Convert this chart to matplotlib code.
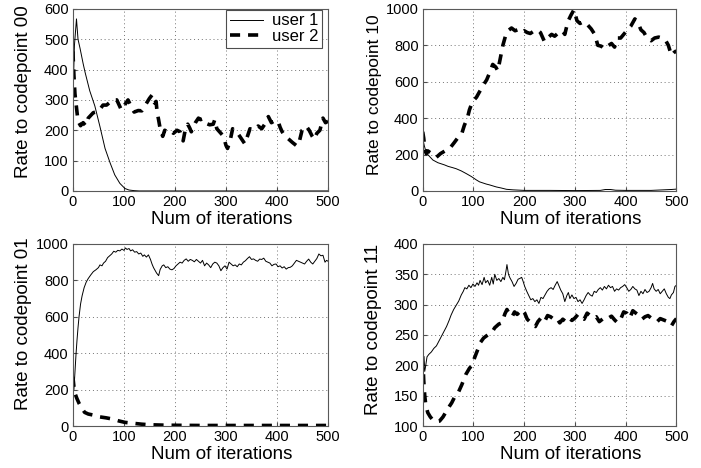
import matplotlib
matplotlib.use("Agg")
import matplotlib.pyplot as plt

plt.rcParams['font.family'] = ['Liberation Sans', 'DejaVu Sans']

# ---- codepoint 00 (top left) ----
tl_u1_x = [0, 3, 7, 10, 14, 20, 24, 33, 43, 53, 63, 73, 82, 92, 102, 110, 120, 130, 500]
tl_u1_y = [300, 480, 567, 500, 470, 420, 390, 330, 280, 212, 140, 92, 53, 25, 8, 3, 1, 0, 0]
tl_u2_x = [0, 2, 4, 6, 10, 15, 20, 25, 30, 40, 50, 59, 66, 78, 86, 95, 102, 108, 115, 120, 128,
           135, 142, 150, 155, 160, 163, 165, 168, 171, 176, 180, 185, 190, 197, 204, 210, 216,
           220, 225, 229, 232, 240, 246, 250, 255, 262, 268, 275, 278, 282, 290, 295, 300, 303,
           308, 313, 318, 325, 333, 337, 343, 347, 353, 363, 370, 376, 383, 389, 396, 402, 406,
           410, 416, 422, 430, 439, 444, 449, 457, 463, 469, 473, 478, 484, 490, 495, 500]
tl_u2_y = [460, 380, 320, 290, 230, 215, 225, 215, 240, 258, 262, 283, 283, 300, 300, 267, 285,
           300, 275, 260, 265, 264, 283, 305, 316, 290, 295, 260, 234, 205, 180, 200, 195, 200,
           190, 200, 195, 165, 200, 220, 207, 195, 225, 240, 235, 238, 222, 218, 220, 235, 205,
           190, 180, 150, 140, 165, 205, 195, 185, 165, 155, 185, 205, 200, 214, 205, 220, 245,
           225, 232, 230, 210, 195, 180, 172, 160, 148, 165, 200, 214, 200, 180, 170, 190, 200,
           240, 225, 230]

# ---- codepoint 10 (top right) ----
tr_u1_x = [0, 3, 6, 10, 15, 20, 30, 43, 50, 59, 66, 76, 86, 96, 106, 112, 125, 132, 145, 155,
           165, 178, 200, 250, 300, 350, 360, 370, 380, 400, 450, 490, 500]
tr_u1_y = [290, 250, 220, 200, 185, 170, 155, 143, 135, 128, 122, 110, 95, 79, 60, 50, 38, 33,
           22, 16, 9, 6, 3, 3, 2, 3, 8, 8, 4, 3, 3, 8, 10]
tr_u2_x = [0, 2, 4, 7, 10, 20, 27, 35, 47, 55, 62, 70, 77, 82, 88, 92, 98, 106, 112, 118, 126,
           132, 138, 144, 148, 153, 158, 163, 168, 175, 182, 187, 193, 200, 206, 212, 220, 226,
           232, 240, 246, 254, 260, 268, 275, 280, 286, 292, 298, 304, 310, 317, 324, 332, 339,
           345, 352, 358, 364, 372, 378, 384, 390, 396, 402, 410, 418, 424, 430, 436, 442, 450,
           457, 465, 471, 478, 484, 490, 495, 500]
tr_u2_y = [325, 290, 235, 205, 220, 200, 185, 205, 225, 240, 265, 295, 315, 360, 400, 445, 490,
           515, 545, 575, 610, 650, 695, 680, 660, 730, 800, 850, 880, 895, 880, 885, 870, 880,
           870, 865, 880, 885, 870, 820, 840, 860, 850, 870, 880, 860, 930, 965, 995, 935, 920,
           930, 915, 890, 860, 800, 795, 780, 795, 810, 790, 840, 840, 860, 880, 905, 945, 925,
           885, 870, 840, 825, 840, 845, 840, 830, 800, 745, 760, 770]

# ---- codepoint 01 (bottom left) ----
bl_u1_x = [0, 2, 4, 6, 8, 10, 12, 15, 18, 22, 26, 30, 35, 40, 45, 50, 53, 57, 60, 64, 68, 72,
           76, 80, 84, 88, 92, 96, 100, 103, 106, 110, 113, 117, 121, 125, 129, 133, 137, 140,
           144, 148, 152, 155, 158, 161, 164, 168, 171, 175, 178, 182, 186, 190, 194, 198, 202,
           206, 210, 214, 218, 222, 226, 230, 234, 238, 242, 246, 250, 254, 258, 262, 266, 270,
           274, 278, 282, 286, 290, 294, 298, 302, 306, 310, 314, 318, 322, 326, 330, 334, 338,
           342, 346, 350, 354, 358, 362, 366, 370, 374, 378, 382, 386, 390, 394, 398, 402, 406,
           410, 414, 418, 422, 426, 430, 434, 438, 442, 446, 450, 454, 458, 462, 466, 470, 474,
           478, 482, 486, 490, 494, 497, 500]
bl_u1_y = [270, 200, 300, 390, 470, 540, 600, 670, 715, 760, 790, 810, 830, 848, 858, 870, 885,
           880, 895, 905, 925, 935, 945, 960, 955, 965, 962, 972, 965, 978, 970, 975, 962, 968,
           955, 958, 945, 950, 932, 940, 928, 940, 915, 890, 870, 855, 840, 826, 860, 880, 885,
           870, 875, 862, 858, 865, 880, 890, 900, 895, 910, 918, 905, 915, 910, 902, 915, 905,
           895, 910, 880, 895, 885, 870, 890, 900, 895, 880, 853, 870, 880, 862, 900, 890, 880,
           885, 875, 890, 885, 900, 908, 920, 930, 915, 918, 910, 905, 917, 915, 922, 905, 900,
           895, 880, 888, 890, 875, 880, 868, 875, 862, 870, 872, 880, 895, 910, 905, 900, 895,
           890, 905, 917, 900, 890, 905, 920, 945, 935, 938, 900, 910, 905]
bl_u2_x = [0, 2, 4, 8, 12, 17, 23, 30, 40, 53, 65, 78, 90, 102, 118, 135, 150, 175, 200, 250,
           300, 400, 500]
bl_u2_y = [270, 215, 180, 150, 125, 100, 75, 66, 60, 50, 45, 38, 28, 20, 15, 10, 7, 5, 4, 3, 3,
           3, 3]

# ---- codepoint 11 (bottom right) ----
br_u1_x = [0, 2, 4, 6, 8.5, 12, 17, 22, 27, 32, 37, 42, 47, 52, 56, 61, 66, 71, 76, 80, 83, 87,
           91, 95, 99, 103, 107, 110, 113, 117, 121, 124, 128, 132, 136, 139, 142, 146, 150, 154,
           158, 161, 164, 166, 169, 172, 176, 180, 184, 188, 191, 195, 198, 201, 205, 209, 213,
           217, 221, 225, 229, 233, 237, 241, 245, 249, 253, 257, 261, 265, 268, 272, 276, 280,
           284, 287, 290, 294, 298, 302, 306, 310, 314, 318, 322, 326, 330, 334, 338, 342, 346,
           350, 354, 358, 362, 366, 370, 374, 378, 382, 386, 390, 394, 398, 402, 406, 410, 414,
           418, 422, 426, 430, 434, 438, 442, 446, 450, 453, 456, 460, 464, 468, 472, 476, 480,
           484, 487, 490, 494, 497, 500]
br_u1_y = [225, 205, 190, 200, 214, 218, 222, 228, 232, 240, 248, 256, 264, 274, 283, 292, 299,
           306, 316, 322, 328, 326, 332, 328, 334, 330, 336, 332, 340, 333, 345, 336, 340, 332,
           345, 334, 350, 340, 343, 338, 345, 341, 355, 366, 350, 344, 338, 330, 335, 342, 343,
           345, 338, 330, 322, 315, 308, 310, 305, 308, 302, 312, 310, 316, 322, 326, 328, 325,
           332, 338, 332, 324, 318, 305, 315, 320, 310, 316, 310, 312, 305, 308, 302, 308, 315,
           320, 316, 314, 322, 320, 325, 328, 324, 330, 326, 332, 328, 330, 322, 326, 324, 328,
           330, 333, 328, 322, 325, 330, 326, 324, 315, 322, 318, 325, 320, 322, 328, 335, 326,
           322, 325, 318, 322, 326, 318, 312, 310, 316, 320, 330, 332]
br_u2_x = [0, 2, 4, 6, 10, 15, 20, 27, 33, 40, 47, 53, 57, 63, 70, 77, 85, 92, 97, 102, 108,
           114, 120, 128, 136, 142, 150, 156, 162, 166, 171, 176, 181, 186, 191, 195, 201, 206,
           211, 217, 222, 227, 233, 240, 246, 252, 258, 264, 270, 276, 282, 288, 294, 300, 306,
           312, 318, 324, 330, 337, 342, 348, 354, 360, 366, 372, 378, 384, 390, 396, 402, 408,
           414, 420, 426, 432, 438, 444, 450, 456, 462, 468, 474, 480, 486, 490, 495, 500]
br_u2_y = [215, 175, 150, 135, 122, 115, 110, 107, 108, 115, 125, 133, 138, 148, 155, 168, 185,
           195, 200, 212, 225, 238, 245, 250, 254, 262, 268, 270, 285, 292, 284, 280, 288, 284,
           288, 292, 286, 276, 272, 266, 264, 272, 278, 272, 282, 280, 276, 278, 270, 276, 272,
           278, 274, 278, 284, 278, 276, 286, 282, 278, 280, 272, 276, 280, 278, 281, 275, 270,
           276, 288, 286, 278, 290, 286, 282, 276, 280, 282, 278, 275, 272, 277, 275, 273, 268,
           265, 272, 277]

x_ticks = [0, 100, 200, 300, 400, 500]
panels = [
    # (rect, series, ylim, yticks, ylabel, label size, ylabel centre)
    ([0.104, 0.592, 0.364, 0.389], (tl_u1_x, tl_u1_y, tl_u2_x, tl_u2_y), (0, 600),
     [0, 100, 200, 300, 400, 500, 600], 'Rate to codepoint 00', 13.5, 0.547),
    ([0.603, 0.592, 0.362, 0.389], (tr_u1_x, tr_u1_y, tr_u2_x, tr_u2_y), (0, 1000),
     [0, 200, 400, 600, 800, 1000], 'Rate to codepoint 10', 12.5, 0.527),
    ([0.104, 0.0897, 0.364, 0.389], (bl_u1_x, bl_u1_y, bl_u2_x, bl_u2_y), (0, 1000),
     [0, 200, 400, 600, 800, 1000], 'Rate to codepoint 01', 13.5, 0.56),
    ([0.603, 0.0897, 0.362, 0.389], (br_u1_x, br_u1_y, br_u2_x, br_u2_y), (100, 400),
     [100, 150, 200, 250, 300, 350, 400], 'Rate to codepoint 11', 13.5, 0.533),
]

fig = plt.figure(figsize=(7.01, 4.68), dpi=100)
axes = []
for rect, (x1, y1, x2, y2), ylim, yticks, ylabel, lsize, ymid in panels:
    ax = fig.add_axes(rect)
    ax.plot(x1, y1, color='black', lw=0.7, label='user 1')
    ax.plot(x2, y2, color='black', lw=2.6, ls=(0, (2.8, 2.2)), label='user 2')
    ax.set_xlim(0, 500)
    ax.set_ylim(*ylim)
    ax.set_xticks(x_ticks)
    ax.set_yticks(yticks)
    ax.grid(True, ls=(0, (1, 3)), lw=0.7, color='0.45')
    ax.tick_params(direction='in', length=3, labelsize=10.5, pad=3, color='0.3')
    for sp in ax.spines.values():
        sp.set_color('0.35')
        sp.set_linewidth(0.8)
    ax.set_xlabel('Num of iterations', fontsize=13.5)
    ax.xaxis.set_label_coords(0.585, -0.112)
    ax.set_ylabel(ylabel, fontsize=lsize)
    ax.yaxis.set_label_coords(-0.16, ymid)
    axes.append(ax)

leg = axes[0].legend(loc='upper right', bbox_to_anchor=(0.976, 0.995), fontsize=12,
                     fancybox=False, edgecolor='0.3', framealpha=1, borderpad=0.22,
                     labelspacing=0.05, handlelength=2.0, handletextpad=0.5,
                     borderaxespad=0)
leg.get_frame().set_linewidth(0.8)

fig.savefig('out.png', dpi=100)
